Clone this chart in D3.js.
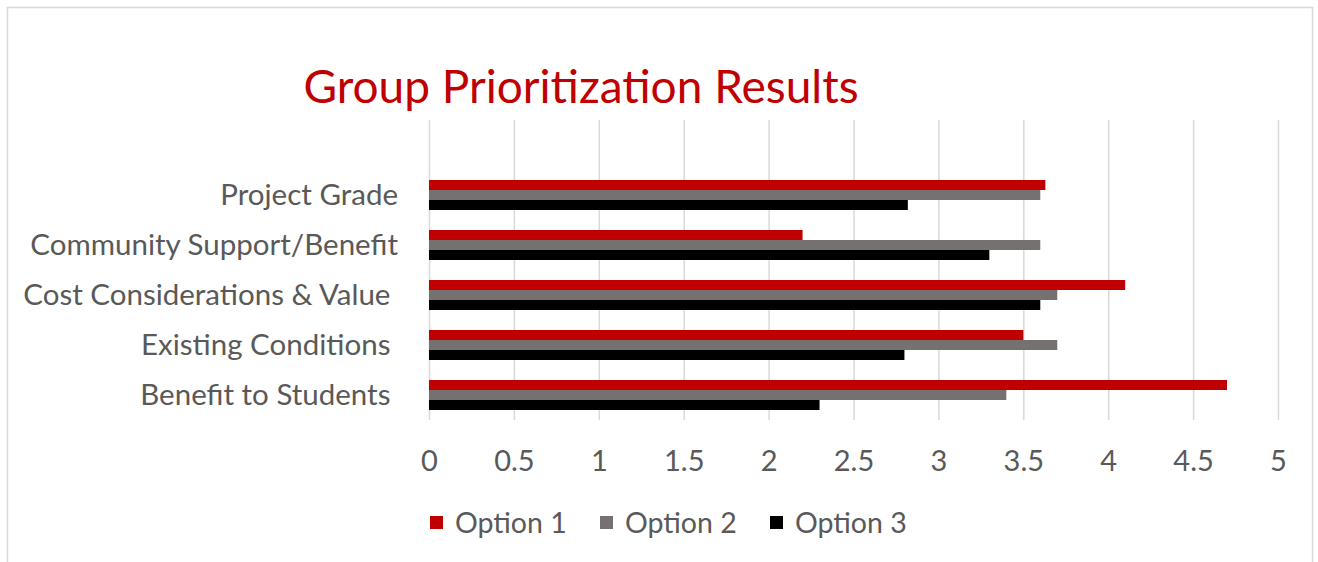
<!DOCTYPE html>
<html>
<head>
<meta charset="utf-8">
<script src="https://cdn.jsdelivr.net/npm/d3@7"></script>
<style>
  body { margin: 0; background: #fff; }
  svg { font-family: Lato, "Open Sans", sans-serif; }
  .lbl { white-space: pre; }
</style>
</head>
<body>
<svg id="chart" width="1318" height="562"></svg>
<script>
  // Categories, top to bottom as drawn
  var CATEGORIES = [
    "Project Grade",
    "Community Support/Benefit",
    "Cost Considerations & Value ",
    "Existing Conditions ",
    "Benefit to Students "
  ];

  var SERIES = ["Option 1", "Option 2", "Option 3"];
  var COLORS = ["#c00000", "#767171", "#000000"];

  // values per category, same order as CATEGORIES
  var OPTION_1 = [3.63, 2.2, 4.1, 3.5, 4.7];
  var OPTION_2 = [3.6, 3.6, 3.7, 3.7, 3.4];
  var OPTION_3 = [2.82, 3.3, 3.6, 2.8, 2.3];

  var X_TICKS = [0, 0.5, 1, 1.5, 2, 2.5, 3, 3.5, 4, 4.5, 5];

  var TITLE = "Group Prioritization Results";
  var TEXT_COLOR = "#595959";
  var GRID_COLOR = "#d9d9d9";

  var svg = d3.select("#chart");

  // outer chart border
  svg.append("rect")
    .attr("x", 7.5).attr("y", 7.5)
    .attr("width", 1305).attr("height", 570)
    .attr("fill", "none")
    .attr("stroke", GRID_COLOR)
    .attr("stroke-width", 1.5);

  var PLOT_TOP = 120;
  var PLOT_BOTTOM = 420;

  var x = d3.scaleLinear().domain([0, 5]).range([429, 1278]);
  var y = d3.scaleBand()
    .domain(CATEGORIES)
    .range([170, PLOT_BOTTOM])
    .paddingInner(0.4)
    .paddingOuter(0.2);
  var ys = d3.scaleBand().domain(SERIES).range([0, y.bandwidth()]);

  // gridlines
  svg.append("g")
    .attr("transform", "translate(0," + PLOT_BOTTOM + ")")
    .call(d3.axisBottom(x).tickValues(X_TICKS)
      .tickSize(-(PLOT_BOTTOM - PLOT_TOP)).tickFormat(""))
    .call(g => g.select(".domain").remove())
    .call(g => g.selectAll("line")
      .attr("stroke", GRID_COLOR).attr("stroke-width", 1.5));

  // tick labels
  svg.append("g")
    .attr("transform", "translate(0,471)")
    .call(d3.axisBottom(x).tickValues(X_TICKS).tickSize(0).tickPadding(0)
      .tickFormat(d3.format("")))
    .call(g => g.select(".domain").remove())
    .call(g => g.selectAll("text")
      .attr("dy", null)
      .attr("font-family", "Lato, sans-serif")
      .attr("font-size", 29)
      .attr("fill", TEXT_COLOR));

  // bars
  var rows = [OPTION_1, OPTION_2, OPTION_3];
  SERIES.forEach(function (s, si) {
    svg.append("g")
      .attr("fill", COLORS[si])
      .selectAll("rect")
      .data(CATEGORIES)
      .enter().append("rect")
        .attr("x", x(0))
        .attr("y", d => y(d) + ys(s))
        .attr("width", (d, i) => x(rows[si][i]) - x(0))
        .attr("height", ys.bandwidth());
  });

  // category labels
  svg.append("g")
    .selectAll("text")
    .data(CATEGORIES)
    .enter().append("text")
      .attr("class", "lbl")
      .attr("x", 398)
      .attr("y", d => y(d) + y.bandwidth() / 2 + 10)
      .attr("text-anchor", "end")
      .attr("font-size", 29.5)
      .attr("fill", TEXT_COLOR)
      .text(d => d);

  // title
  svg.append("text")
    .attr("x", 581)
    .attr("y", 103)
    .attr("text-anchor", "middle")
    .attr("font-size", 46)
    .attr("fill", "#c00000")
    .text(TITLE);

  // legend
  var legend = svg.append("g").attr("transform", "translate(430,516)");
  var item = legend.selectAll("g")
    .data(SERIES)
    .enter().append("g")
      .attr("transform", (d, i) => "translate(" + (i * 170) + ",0)");
  item.append("rect")
    .attr("width", 13).attr("height", 13)
    .attr("fill", (d, i) => COLORS[i]);
  item.append("text")
    .attr("x", 25)
    .attr("y", 17)
    .attr("font-size", 28.5)
    .attr("fill", TEXT_COLOR)
    .text(d => d);
</script>
</body>
</html>
